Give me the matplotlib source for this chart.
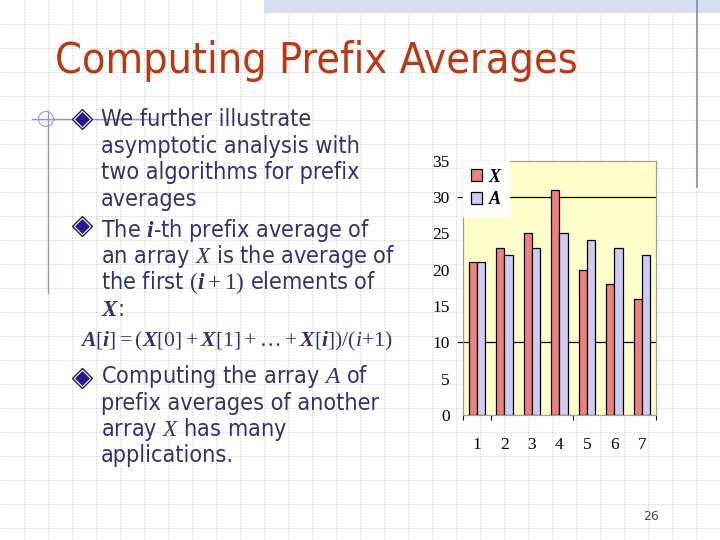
import matplotlib
matplotlib.use('Agg')
import matplotlib.pyplot as plt
from matplotlib.patches import Rectangle, Circle
import numpy as np

# ---------------- data ----------------
categories = [1, 2, 3, 4, 5, 6, 7]
x_values = [21, 23, 25, 31, 20, 18, 16]
a_values = [21, 22, 23, 25, 24, 23, 22]
series_names = ['X', 'A']
y_ticks = [0, 5, 10, 15, 20, 25, 30, 35]
ref_lines = [10, 30]
x_minor_ticks = [0.5, 1.5, 4.5, 7.5]

title = "Computing Prefix Averages"
body_lines = [
    "We further illustrate",
    "asymptotic analysis with",
    "two algorithms for prefix",
    "averages",
    r"The $i$-th prefix average of",
    r"an array $\mathsf{X}$ is the average of",
    r"the first $(i + 1)$ elements of",
    r"$X$:",
    r"Computing the array $\mathsf{A}$ of",
    "prefix averages of another",
    r"array $\mathsf{X}$ has many",
    "applications.",
]
body_baselines = [126, 152.7, 179.5, 206, 236.5, 263, 289.5, 315.5,
                  383.5, 410, 436, 462]
bullet_rows = [118.5, 226, 377.5]
formula = r"$A[i] = (X[0] + X[1] + \ldots + X[i])/(\mathsf{i}{+}1)$"
page_number = "26"

plt.rcParams.update({
    'mathtext.fontset': 'custom',
    'mathtext.rm': 'Liberation Serif',
    'mathtext.it': 'Liberation Serif:italic:bold',
    'mathtext.bf': 'Liberation Serif:bold',
    'mathtext.sf': 'Liberation Serif:italic',
})

TEXT_COL = '#33336A'
TITLE_COL = '#B83A14'

fig = plt.figure(figsize=(7.2, 5.4), dpi=100)
bg = fig.add_axes([0, 0, 1, 1], zorder=0)
bg.set_xlim(0, 720)
bg.set_ylim(540, 0)
bg.axis('off')
renderer = fig.canvas.get_renderer()

# slide dotted grid
for v in range(24, 720, 24):
    bg.plot([v, v], [0, 540], color='#C4C4C4', lw=0.72, ls=(0, (1, 2)), zorder=0)
for h in range(24, 540, 24):
    bg.plot([0, 720], [h, h], color='#C4C4C4', lw=0.72, ls=(0, (1, 2)), zorder=0)

# decorations
bg.add_patch(Rectangle((264, 0), 456, 13, facecolor='#D6DEF1', edgecolor='none', zorder=1))
bg.plot([696.5, 696.5], [0, 187], color='#7A869E', lw=1.1, zorder=2)
bg.plot([47.5, 47.5], [111, 293], color='#8A9CC8', lw=1.0, zorder=2)
bg.plot([32, 157], [119, 119], color='#8A9CC8', lw=1.0, zorder=2)
bg.add_patch(Circle((46, 119), 7.5, fill=False, edgecolor='#8FA0CC', lw=0.8, zorder=2))

body_font = dict(family='DejaVu Sans', fontstretch='condensed')


def text_width(s, size, **kw):
    t = bg.text(0, 0, s, fontsize=size, **kw)
    w = t.get_window_extent(renderer=renderer).width
    t.remove()
    return w


title_size = 30 * 523 / text_width(title, 30, **body_font)
body_size = 16 * 260 / text_width(body_lines[2], 16, **body_font)
formula_size = 16 * 313 / text_width(formula, 16, **body_font)

bg.text(55, 73, title, fontsize=title_size, color=TITLE_COL, va='baseline',
        ha='left', zorder=3, **body_font)

for s, yb in zip(body_lines, body_baselines):
    bg.text(101, yb, s, fontsize=body_size, color=TEXT_COL, va='baseline',
            ha='left', zorder=3, **body_font)

bg.text(80, 346, formula, fontsize=formula_size, color=TEXT_COL, va='baseline',
        ha='left', zorder=3, **body_font)

for yb in bullet_rows:
    bg.plot([82.3], [yb], marker='D', ms=9.8, mfc='white', mec='#22224A', mew=1.0, zorder=4)
    bg.plot([82.3], [yb], marker='D', ms=7.0, mfc='#2A1A8C', mec='#2A1A8C', mew=0.5, zorder=5)

bg.text(651, 517, page_number, fontsize=9, color='#444466', ha='center', va='center',
        family='DejaVu Sans', zorder=3)

# ---------------- chart ----------------
ax = fig.add_axes([463 / 720, 125 / 540, 192.5 / 720, 254.5 / 540], zorder=2)
ax.set_facecolor('#FFFFCC')
pos = np.array(categories, dtype=float)
w = 0.3
ax.bar(pos - w / 2, x_values, w, color='#F08080', edgecolor='black', lw=0.9,
       zorder=3, label=series_names[0])
ax.bar(pos + w / 2, a_values, w, color='#CCCCF5', edgecolor='black', lw=0.9,
       zorder=3, label=series_names[1])
for v in ref_lines:
    ax.plot([-5 / 192.5, 1], [v, v], transform=ax.get_yaxis_transform(),
            color='black', lw=0.9, clip_on=False, zorder=2)
ax.set_xlim(0.5, 7.5)
ax.set_ylim(0, 35)
ax.set_yticks(y_ticks)
ax.set_yticklabels([str(t) for t in y_ticks])
ax.set_xticks(categories)
ax.set_xticklabels([str(c) for c in categories])
ax.set_xticks(x_minor_ticks, minor=True)
ax.tick_params(axis='both', which='major', length=0)
ax.tick_params(axis='y', which='minor', length=0)
ax.tick_params(axis='y', pad=9.5)
ax.tick_params(axis='x', which='major', pad=16)
ax.tick_params(axis='x', which='minor', length=3.6, width=0.8, direction='out',
               color='black')
for lab in ax.get_xticklabels() + ax.get_yticklabels():
    lab.set_fontfamily('Liberation Serif')
    lab.set_fontsize(12.5)
for sp in ax.spines.values():
    sp.set_color('#A0A08C')
    sp.set_linewidth(0.9)

leg = ax.legend(loc='upper left', bbox_to_anchor=(0, 1), borderaxespad=0,
                frameon=True, fancybox=False, framealpha=1, facecolor='white',
                edgecolor='white',
                prop=dict(family='Liberation Serif', style='italic', weight='bold', size=13),
                handlelength=0.62, handleheight=0.62, handletextpad=0.35,
                borderpad=0.45, labelspacing=0.3)
leg.set_zorder(6)

fig.savefig('out.png', dpi=100)
